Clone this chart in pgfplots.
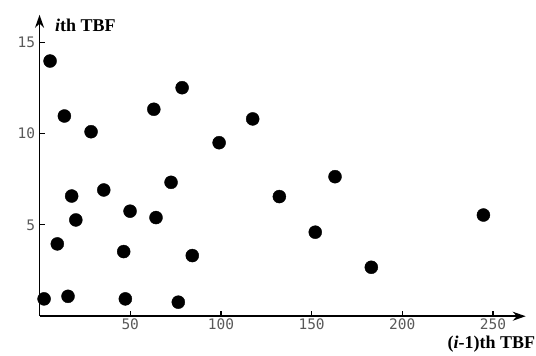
\documentclass[border=0pt]{standalone}
\usepackage{pgfplots}
\pgfplotsset{compat=1.18}
\usepackage{fontspec}
\setmainfont{Liberation Serif}
\newfontfamily\tickfont{DejaVu Sans Mono}
\usetikzlibrary{arrows.meta}
\begin{document}
\begin{tikzpicture}
\begin{axis}[
  x=1.814pt, y=18.27pt,
  xmin=0, xmax=268, ymin=0, ymax=16.5,
  axis lines=left,
  axis line style={line width=1.8pt, -{Stealth[length=13pt,width=9pt]}},
  xtick={50,100,150,200,250},
  ytick={5,10,15},
  tick align=inside,
  major tick length=5pt,
  tick style={line width=1.2pt, black},
  tick label style={font=\tickfont\fontsize{14.5}{14.5}\selectfont, text=black!65},
  /pgf/number format/assume math mode=true,
  xticklabel style={yshift=-1pt, inner sep=1pt},
  yticklabel style={xshift=-1pt},
  clip=false,
]
\addplot[only marks, mark=*, mark size=6.5pt, black] coordinates {
(5.8,13.97) (13.7,10.96) (28.4,10.1) (63,11.33) (78.6,12.51) (117.5,10.8) (99,9.5)
(72.5,7.33) (17.7,6.58) (35.4,6.91) (20,5.27) (49.9,5.75) (64.2,5.4)
(9.8,3.96) (46.4,3.54) (84.2,3.32) (2.5,0.95) (15.7,1.09) (47.3,0.95) (76.5,0.77)
(132.2,6.55) (162.9,7.64) (152,4.6) (182.9,2.68) (244.7,5.54)
};
\node[anchor=base west, inner sep=0pt, font=\bfseries\fontsize{18}{18}\selectfont] at (axis cs:8.5,15.56) {\textit{i}th TBF};
\node[anchor=base east, inner sep=0pt, font=\bfseries\fontsize{18}{18}\selectfont] at (axis cs:273.3,-1.78) {(\textit{i}-1)th TBF};
\coordinate (bl) at (axis cs:-21.8,-2.17);
\coordinate (tr) at (axis cs:273.7,17.31);
\end{axis}
\pgfresetboundingbox
\path[use as bounding box] (bl) rectangle (tr);
\end{tikzpicture}
\end{document}
